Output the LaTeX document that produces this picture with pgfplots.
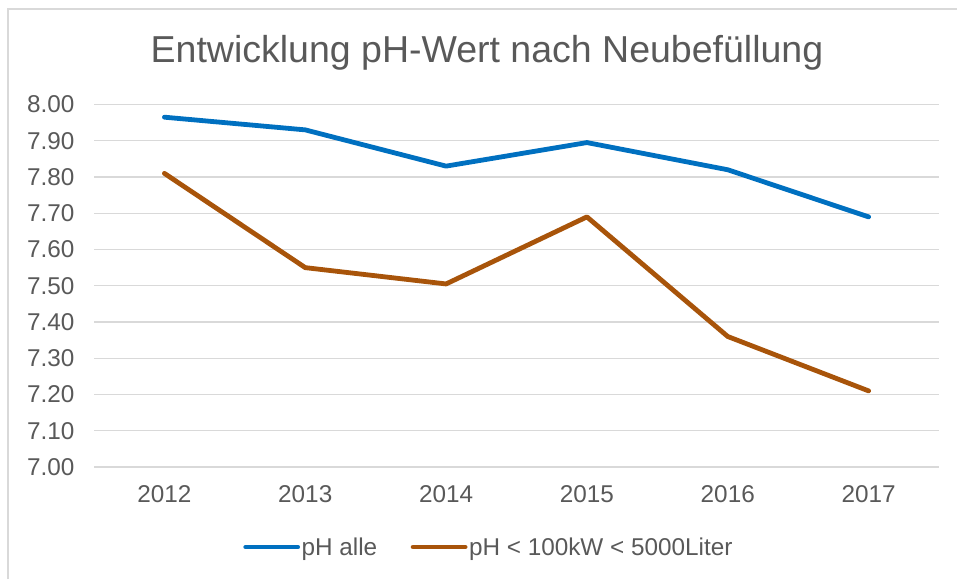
\documentclass[border=0pt]{standalone}
\usepackage{fontspec}
\setmainfont{Liberation Sans}
\usepackage{pgfplots}
\pgfplotsset{compat=1.18}

\definecolor{phblue}{RGB}{0,112,192}
\definecolor{phbrown}{RGB}{168,84,10}
\definecolor{txtgrey}{RGB}{89,89,89}
\definecolor{gridgrey}{RGB}{217,217,217}

\begin{document}
\begin{tikzpicture}
    % page = 957 x 579, 1px = 1pt, origin top left
    \path[use as bounding box] (0pt,0pt) rectangle (957pt,-579pt);
    \draw[gridgrey, line width=1.5pt] (8pt,-579pt) -- (8pt,-9pt) -- (957pt,-9pt);

    \node[anchor=base, text=txtgrey, font=\fontsize{37.5pt}{44pt}\selectfont, inner sep=0pt]
        at (487pt,-62pt) {Entwicklung pH-Wert nach Neubefüllung};

    \begin{axis}[
        at={(94pt,-467pt)}, anchor=south west,
        scale only axis,
        width=845pt, height=362.5pt,
        xmin=-0.5, xmax=5.5,
        ymin=7, ymax=8,
        xtick={0,1,2,3,4,5},
        xticklabels={2012,2013,2014,2015,2016,2017},
        ytick={7,7.1,7.2,7.3,7.4,7.5,7.6,7.7,7.8,7.9,8},
        /pgf/number format/assume math mode=true,
        major tick length=0pt,
        axis line style={draw=none},
        ymajorgrids,
        major grid style={gridgrey, line width=1.3pt},
        tick label style={text=txtgrey, font=\fontsize{24.3pt}{28pt}\selectfont},
        yticklabel style={xshift=-16pt, /pgf/number format/fixed,
            /pgf/number format/fixed zerofill, /pgf/number format/precision=2},
        xticklabel style={yshift=-15pt},
        legend columns=2,
        legend style={draw=none, fill=none, text=txtgrey,
            font=\fontsize{24.3pt}{28pt}\selectfont,
            at={(0.467,-0.2207)}, anchor=center,
            nodes={inner sep=1.5pt},
            /tikz/every even column/.append style={column sep=32pt}},
        legend image code/.code={\draw[#1, line cap=round] (0pt,0pt) -- (52pt,0pt);},
    ]
    \addplot[phblue, line width=4.8pt, line join=round, line cap=round] coordinates {
        (0,7.965) (1,7.93) (2,7.83) (3,7.895) (4,7.82) (5,7.69)
    };
    \addlegendentry{pH alle}
    \addplot[phbrown, line width=4.8pt, line join=round, line cap=round] coordinates {
        (0,7.81) (1,7.55) (2,7.505) (3,7.69) (4,7.36) (5,7.21)
    };
    \addlegendentry{pH < 100kW < 5000Liter}
    \end{axis}
\end{tikzpicture}
\end{document}
